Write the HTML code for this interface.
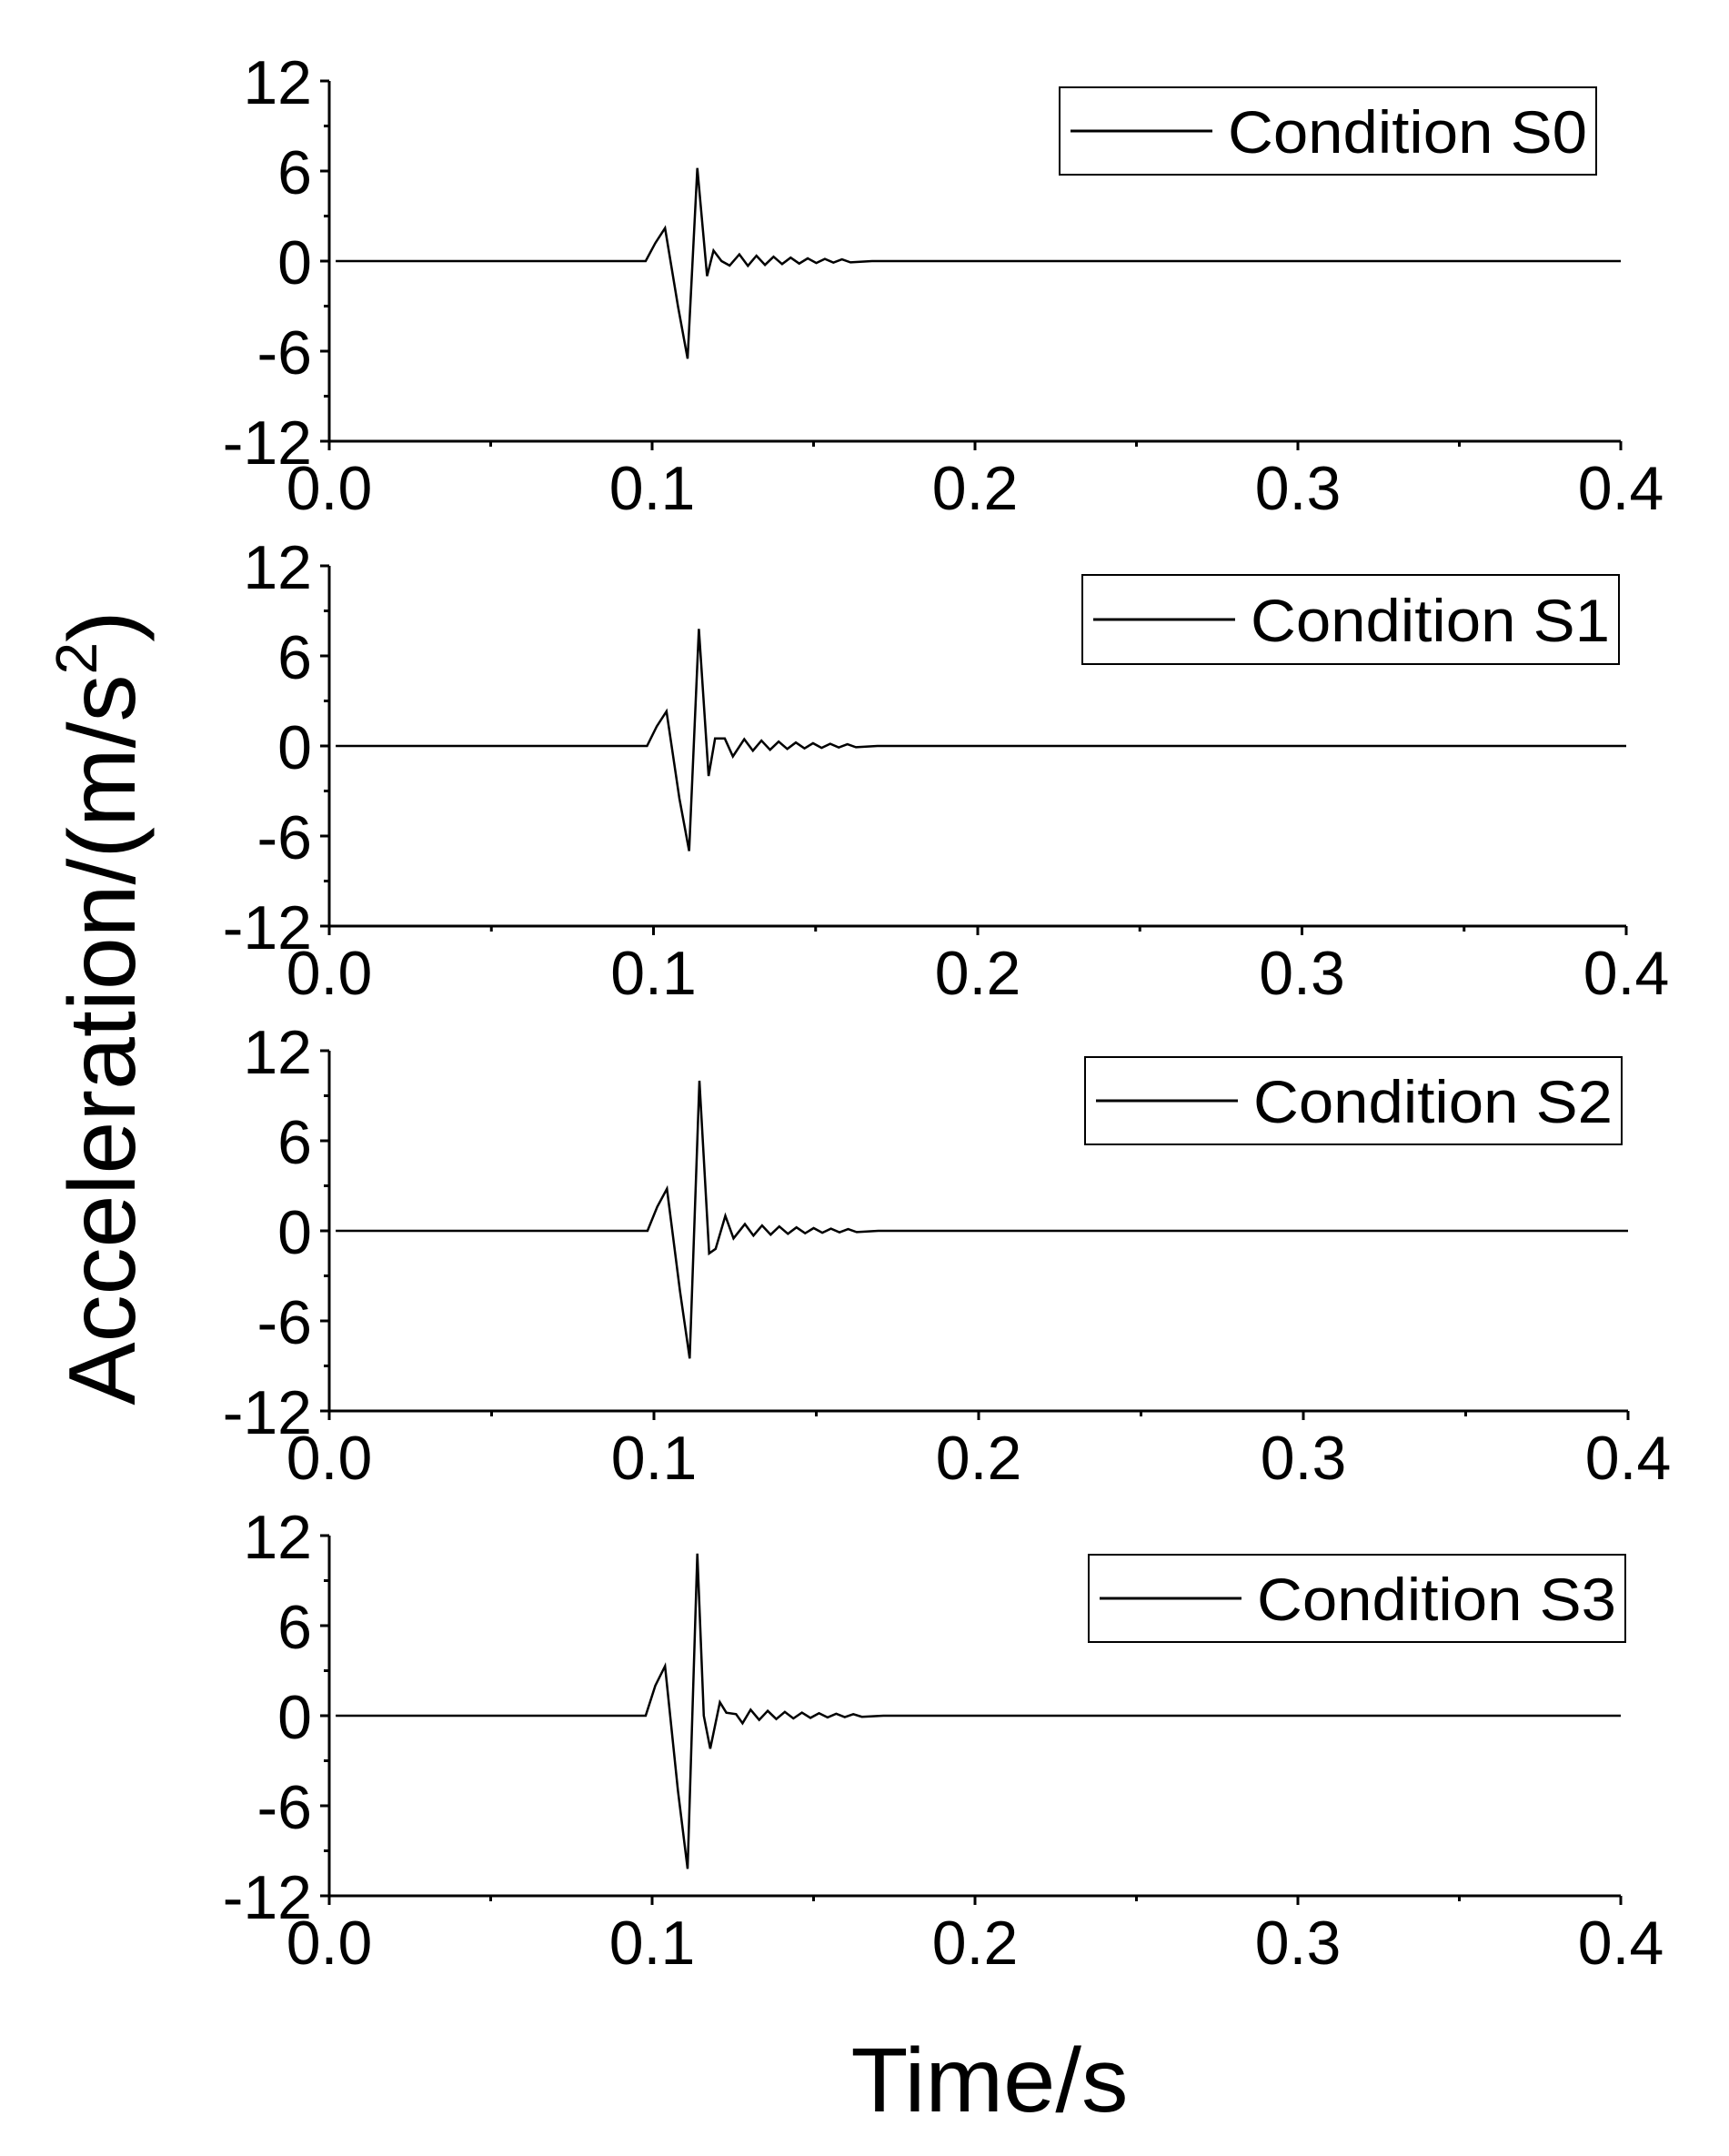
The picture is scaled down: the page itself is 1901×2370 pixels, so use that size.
<!DOCTYPE html>
<html><head><meta charset="utf-8"><style>
html,body{margin:0;padding:0;background:#fff;}
svg{display:block;font-family:"Liberation Sans",Arial,sans-serif;}
</style></head><body>
<svg id="s" width="1901" height="2370" viewBox="0 0 1901 2370" xmlns="http://www.w3.org/2000/svg">
<text x="0" y="0" font-size="104" text-anchor="middle" transform="translate(148,1108) rotate(-90)">Acceleration/(m/s<tspan font-size="64" dy="-42">2</tspan><tspan dy="42">)</tspan></text>
<text x="1088" y="2321" font-size="100" text-anchor="middle" textLength="305" lengthAdjust="spacingAndGlyphs">Time/s</text>
</svg>
<script>
var svg=document.getElementById('s'),NS='http://www.w3.org/2000/svg';
function el(n,a,t){var e=document.createElementNS(NS,n);for(var k in a)e.setAttribute(k,a[k]);if(t!==undefined)e.textContent=t;svg.appendChild(e);return e;}
function osc(start,amp,n){var r=[],P=0.0053;for(var i=0;i<n;i++){var a=amp*Math.pow(0.8,i);r.push([start+i*P,a]);r.push([start+i*P+P/2,-a*0.7]);}r.push([start+n*P+0.004,0]);return r;}
var panels=[
{top:89,x1:1782,leg:[1165,96,1755,192],name:'Condition S0',d:[[0.002,0],[0.098,0],[0.101,1.2],[0.104,2.2],[0.108,-3],[0.111,-6.5],[0.114,6.2],[0.117,-1],[0.119,0.7],[0.1215,0],[0.124,-0.3]].concat(osc(0.127,0.45,7))},
{top:622,x1:1788,leg:[1190,632,1780,730],name:'Condition S1',d:[[0.002,0],[0.098,0],[0.101,1.3],[0.104,2.3],[0.108,-3.5],[0.111,-7],[0.114,7.8],[0.117,-2],[0.119,0.5],[0.122,0.5],[0.1245,-0.7]].concat(osc(0.128,0.45,7))},
{top:1155,x1:1790,leg:[1193,1162,1783,1258],name:'Condition S2',d:[[0.002,0],[0.098,0],[0.101,1.6],[0.104,2.8],[0.108,-4],[0.111,-8.5],[0.114,10],[0.117,-1.5],[0.119,-1.2],[0.122,1],[0.1245,-0.5]].concat(osc(0.128,0.45,7))},
{top:1688,x1:1782,leg:[1197,1709,1787,1805],name:'Condition S3',d:[[0.002,0],[0.098,0],[0.101,2],[0.104,3.3],[0.108,-5],[0.111,-10.2],[0.114,10.8],[0.116,0],[0.118,-2.2],[0.121,0.9],[0.123,0.2],[0.126,0.1],[0.128,-0.5]].concat(osc(0.1305,0.4,7))}
];
var x0=362;
panels.forEach(function(p){
 var t=p.top,b=t+396,sx=(p.x1-x0)/0.4,sy=396/24,z=t+198;
 el('line',{x1:x0,y1:t,x2:x0,y2:b+1.5,stroke:'#000','stroke-width':3});
 el('line',{x1:x0-1.5,y1:b,x2:p.x1,y2:b,stroke:'#000','stroke-width':3});
 [12,6,0,-6,-12].forEach(function(v){var y=z-v*sy;el('line',{x1:x0-10,y1:y,x2:x0,y2:y,stroke:'#000','stroke-width':3});
  el('text',{x:343,y:y+25,'font-size':68,'text-anchor':'end'},String(v));});
 [9,3,-3,-9].forEach(function(v){var y=z-v*sy;el('line',{x1:x0-6,y1:y,x2:x0,y2:y,stroke:'#000','stroke-width':3});});
 for(var i=0;i<=8;i++){var x=x0+i*0.05*sx;el('line',{x1:x,y1:b,x2:x,y2:b+(i%2?6:10),stroke:'#000','stroke-width':3});
  if(i%2==0)el('text',{x:x,y:b+75,'font-size':68,'text-anchor':'middle'},(i*0.05).toFixed(1));}
 var pts=p.d.concat([[0.4,0]]).map(function(q){return (x0+q[0]*sx).toFixed(1)+','+(z-q[1]*sy).toFixed(1);}).join(' ');
 el('polyline',{points:pts,fill:'none',stroke:'#000','stroke-width':2.5,'stroke-linejoin':'miter'});
 var L=p.leg;el('rect',{x:L[0],y:L[1],width:L[2]-L[0],height:L[3]-L[1],fill:'#fff',stroke:'#000','stroke-width':2});
 var my=(L[1]+L[3])/2;el('line',{x1:L[0]+12,y1:my,x2:L[0]+168,y2:my,stroke:'#000','stroke-width':3});
 el('text',{x:L[0]+185,y:my+24,'font-size':66,textLength:395,lengthAdjust:'spacingAndGlyphs'},p.name);
});
</script>
</body></html>
